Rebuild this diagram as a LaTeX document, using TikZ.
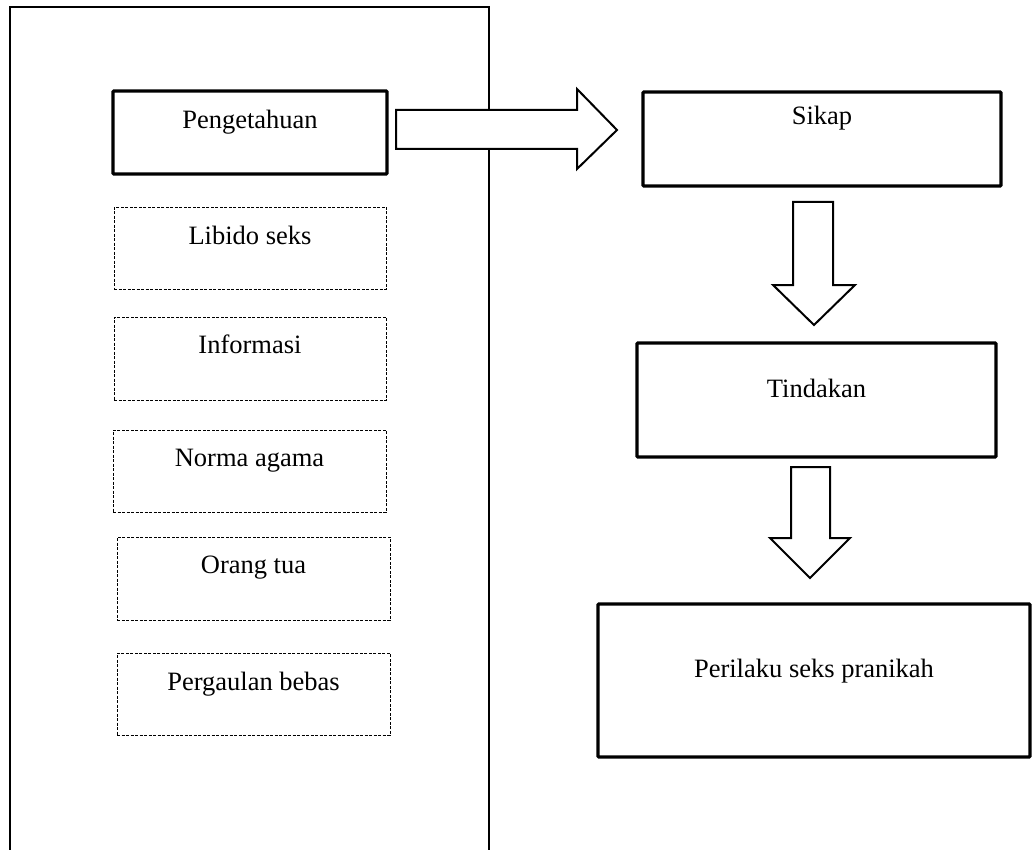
\documentclass[tikz,border=0pt]{standalone}
\usepackage{fontspec}
\setmainfont{Liberation Serif}
\begin{document}
\begin{tikzpicture}[x=1pt,y=-1pt,
  every node/.style={font=\fontsize{26.5}{30}\selectfont},
  solidbox/.style={draw, line width=3.2pt, rounded corners=0.8pt, anchor=north west, inner xsep=0pt, inner ysep=0pt, outer sep=0pt},
  dashbox/.style={draw, line width=0.9pt, dash pattern=on 3pt off 1.5pt, anchor=north west, inner xsep=0pt, inner ysep=0pt, outer sep=0pt},
  blockarrow/.style={draw, fill=white, line width=2pt, line join=miter}]
\useasboundingbox (0,0) rectangle (1032,850);
% outer frame (open at the bottom)
\draw[line width=1.1pt] (10,852) -- (10,7) -- (489,7) -- (489,852);
% left column
\node[solidbox, minimum width=274pt, minimum height=83pt, text height=38pt, text depth=45pt] (peng) at (113,91) {Pengetahuan};
\node[dashbox, minimum width=272pt, minimum height=82pt, text height=37pt, text depth=45pt] (libido) at (114,207) {Libido seks};
\node[dashbox, minimum width=272pt, minimum height=83pt, text height=36pt, text depth=47pt] (info) at (114,317) {Informasi};
\node[dashbox, minimum width=273pt, minimum height=82pt, text height=36pt, text depth=46pt] (norma) at (113,430) {Norma agama};
\node[dashbox, minimum width=273pt, minimum height=83pt, text height=36pt, text depth=47pt] (orang) at (117,537) {Orang tua};
\node[dashbox, minimum width=273pt, minimum height=82pt, text height=37pt, text depth=45pt] (perg) at (117,653) {Pergaulan bebas};
% right column
\node[solidbox, minimum width=358pt, minimum height=94pt, text height=33pt, text depth=61pt] (sikap) at (643,92) {Sikap};
\node[solidbox, minimum width=359pt, minimum height=114pt, text height=54pt, text depth=60pt] (tind) at (637,343) {Tindakan};
\node[solidbox, minimum width=432pt, minimum height=153pt, text height=73pt, text depth=80pt] (peri) at (598,604) {Perilaku seks pranikah};
% block arrows
\draw[blockarrow] (396,110) -- (577,110) -- (577,89) -- (617,130) -- (577,169) -- (577,149) -- (396,149) -- cycle;
\draw[blockarrow] (793,202) -- (833,202) -- (833,285) -- (855,285) -- (814,325) -- (773,285) -- (793,285) -- cycle;
\draw[blockarrow] (791,467) -- (830,467) -- (830,538) -- (850,538) -- (810,578) -- (770,538) -- (791,538) -- cycle;
\end{tikzpicture}
\end{document}
